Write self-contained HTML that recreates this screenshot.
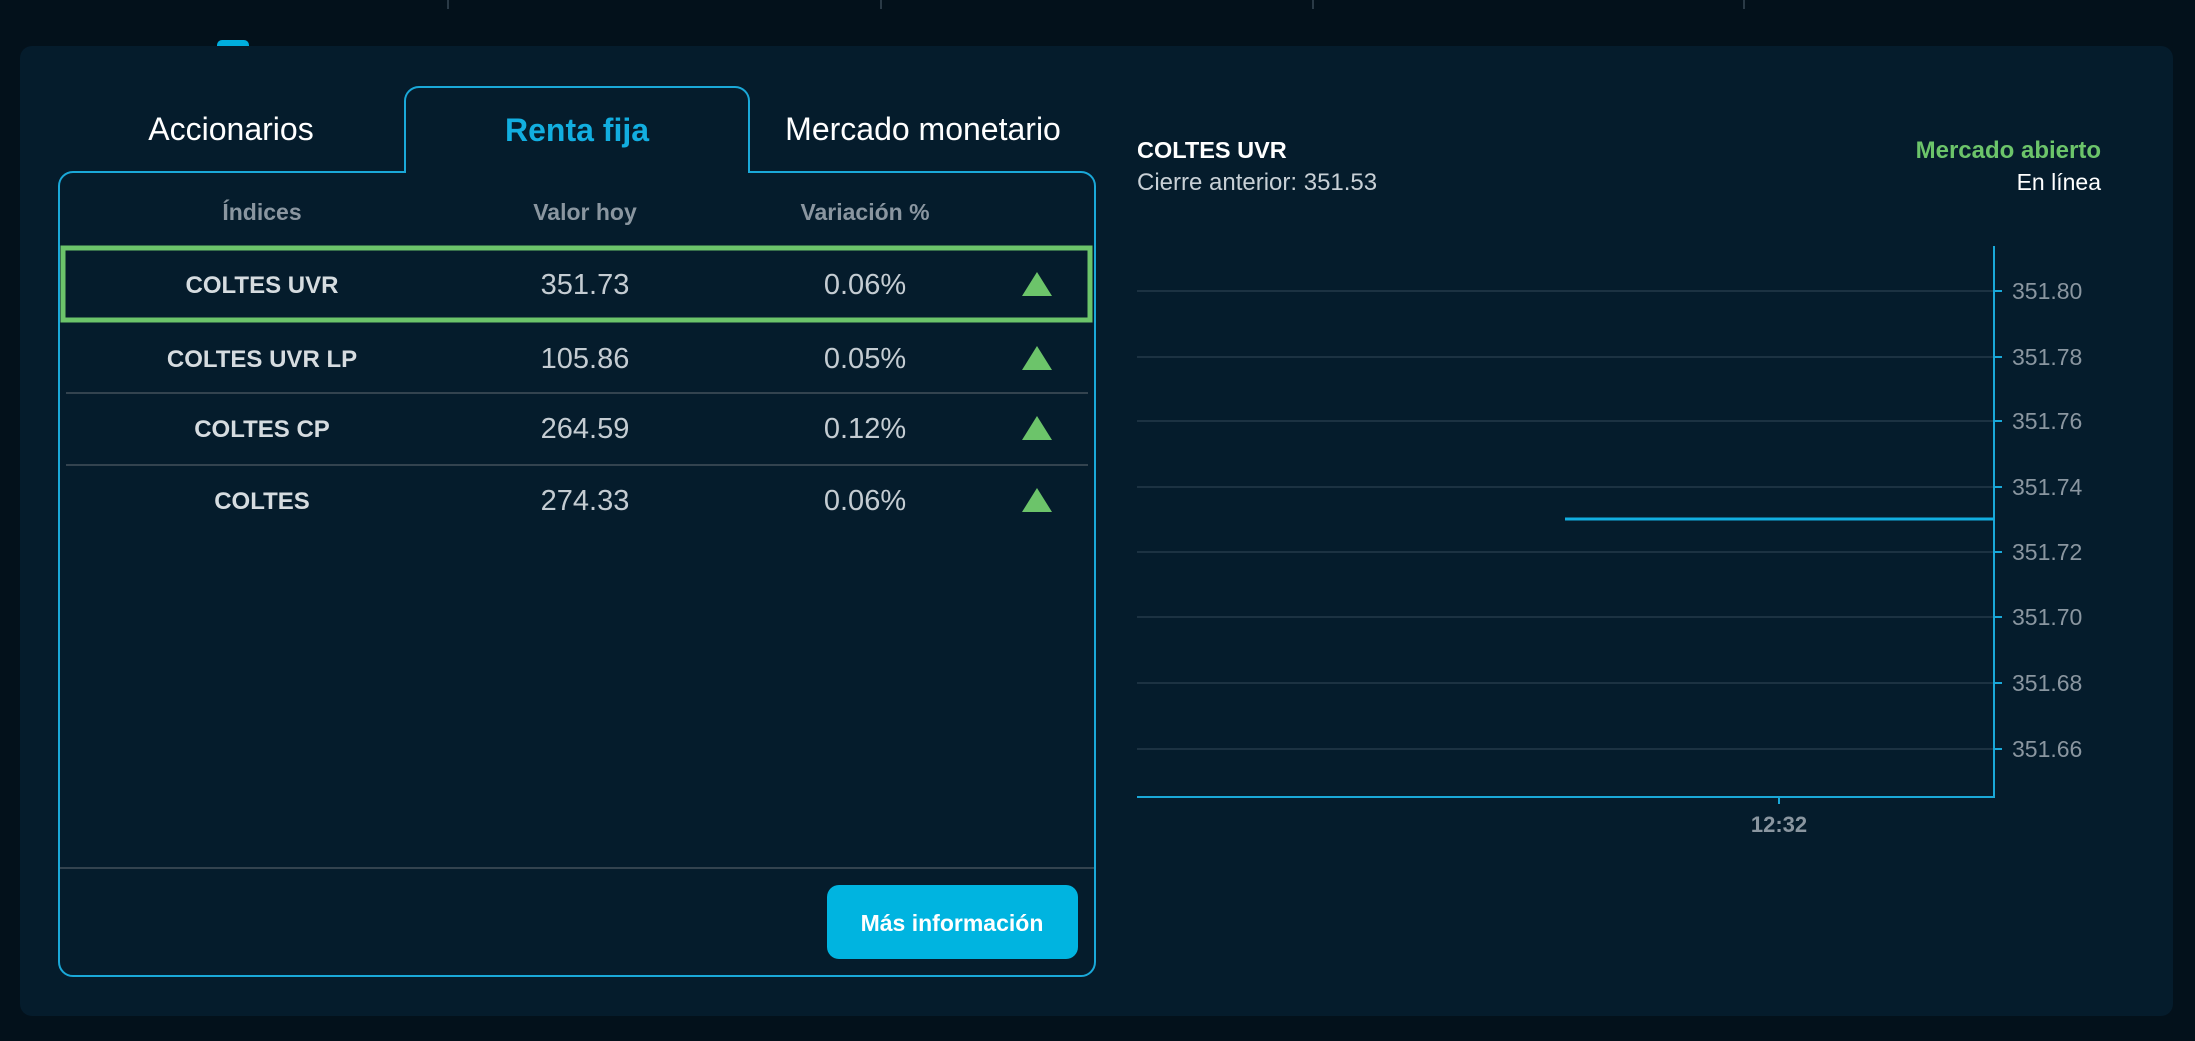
<!DOCTYPE html>
<html><head><meta charset="utf-8"><style>
html,body{margin:0;padding:0;background:#03111b;}
svg{display:block;font-family:"Liberation Sans",sans-serif;}
</style></head><body>
<svg width="2195" height="1041" viewBox="0 0 2195 1041" xmlns="http://www.w3.org/2000/svg">
<rect x="0" y="0" width="2195" height="1041" fill="#03111b"/>
<g stroke="#2a3a46" stroke-width="2">
<line x1="448" y1="0" x2="448" y2="9"/><line x1="881" y1="0" x2="881" y2="9"/><line x1="1313" y1="0" x2="1313" y2="9"/><line x1="1744" y1="0" x2="1744" y2="9"/>
</g>
<rect x="217" y="40" width="32" height="14" rx="5" fill="#00aede"/>
<rect x="20" y="46" width="2153" height="970" rx="12" fill="#051c2c"/>
<path d="M405,172 L73,172 A14,14 0 0 0 59,186 L59,962 A14,14 0 0 0 73,976 L1081,976 A14,14 0 0 0 1095,962 L1095,186 A14,14 0 0 0 1081,172 L749,172 L749,101 A14,14 0 0 0 735,87 L419,87 A14,14 0 0 0 405,101 Z" fill="none" stroke="#1aa8d8" stroke-width="2"/>
<g font-size="32" text-anchor="middle" fill="#ffffff">
<text x="231" y="140">Accionarios</text>
<text x="577" y="141" fill="#12aee0" font-weight="bold">Renta fija</text>
<text x="923" y="140">Mercado monetario</text>
</g>
<g font-size="23" font-weight="bold" fill="#8a96a0" text-anchor="middle">
<text x="262" y="220">Índices</text><text x="585" y="220">Valor hoy</text><text x="865" y="220">Variación %</text>
</g>
<rect x="63" y="248" width="1027" height="72" fill="none" stroke="#6cc46a" stroke-width="5"/>
<g stroke="#33434f" stroke-width="2">
<line x1="66" y1="393" x2="1088" y2="393"/><line x1="66" y1="465" x2="1088" y2="465"/>
<line x1="60" y1="868" x2="1094" y2="868"/>
</g>
<g text-anchor="middle">
<g font-size="24" font-weight="bold" fill="#d6dce0">
<text x="262" y="293">COLTES UVR</text><text x="262" y="367">COLTES UVR LP</text><text x="262" y="437">COLTES CP</text><text x="262" y="509">COLTES</text>
</g>
<g font-size="29" fill="#c4ccd2">
<text x="585" y="294">351.73</text><text x="585" y="368">105.86</text><text x="585" y="438">264.59</text><text x="585" y="510">274.33</text>
<text x="865" y="294">0.06%</text><text x="865" y="368">0.05%</text><text x="865" y="438">0.12%</text><text x="865" y="510">0.06%</text>
</g>
</g>
<g fill="#6cc46a">
<polygon points="1037,272 1052,296 1022,296"/>
<polygon points="1037,346 1052,370 1022,370"/>
<polygon points="1037,416 1052,440 1022,440"/>
<polygon points="1037,488 1052,512 1022,512"/>
</g>
<rect x="827" y="885" width="251" height="74" rx="12" fill="#00b4e0"/>
<text x="952" y="931" font-size="23" font-weight="bold" fill="#ffffff" text-anchor="middle">Más información</text>
<text x="1137" y="158" font-size="23.5" font-weight="bold" fill="#ffffff">COLTES UVR</text>
<text x="1137" y="190" font-size="24" fill="#c8d0d6">Cierre anterior: 351.53</text>
<text x="2101" y="158" font-size="24" font-weight="bold" fill="#6cc46a" text-anchor="end">Mercado abierto</text>
<text x="2101" y="190" font-size="23" fill="#ffffff" text-anchor="end">En línea</text>
<g stroke="#1c3242" stroke-width="2">
<line x1="1137" y1="291" x2="1994" y2="291"/><line x1="1137" y1="357" x2="1994" y2="357"/>
<line x1="1137" y1="421" x2="1994" y2="421"/><line x1="1137" y1="487" x2="1994" y2="487"/>
<line x1="1137" y1="552" x2="1994" y2="552"/><line x1="1137" y1="617" x2="1994" y2="617"/>
<line x1="1137" y1="683" x2="1994" y2="683"/><line x1="1137" y1="749" x2="1994" y2="749"/>
</g>
<g stroke="#1aa8d8" stroke-width="2">
<line x1="1994" y1="246" x2="1994" y2="797"/>
<line x1="1137" y1="797" x2="1995" y2="797"/>
<line x1="1994" y1="291" x2="2002" y2="291"/><line x1="1994" y1="357" x2="2002" y2="357"/>
<line x1="1994" y1="421" x2="2002" y2="421"/><line x1="1994" y1="487" x2="2002" y2="487"/>
<line x1="1994" y1="552" x2="2002" y2="552"/><line x1="1994" y1="617" x2="2002" y2="617"/>
<line x1="1994" y1="683" x2="2002" y2="683"/><line x1="1994" y1="749" x2="2002" y2="749"/>
<line x1="1779" y1="797" x2="1779" y2="804"/>
</g>
<line x1="1565" y1="519" x2="1994" y2="519" stroke="#12aee0" stroke-width="3"/>
<g font-size="23" fill="#8a96a0">
<text x="2012" y="299">351.80</text><text x="2012" y="365">351.78</text><text x="2012" y="429">351.76</text><text x="2012" y="495">351.74</text>
<text x="2012" y="560">351.72</text><text x="2012" y="625">351.70</text><text x="2012" y="691">351.68</text><text x="2012" y="757">351.66</text>
</g>
<text x="1779" y="832" font-size="22" font-weight="bold" fill="#8a96a0" text-anchor="middle">12:32</text>
</svg>
</body></html>
